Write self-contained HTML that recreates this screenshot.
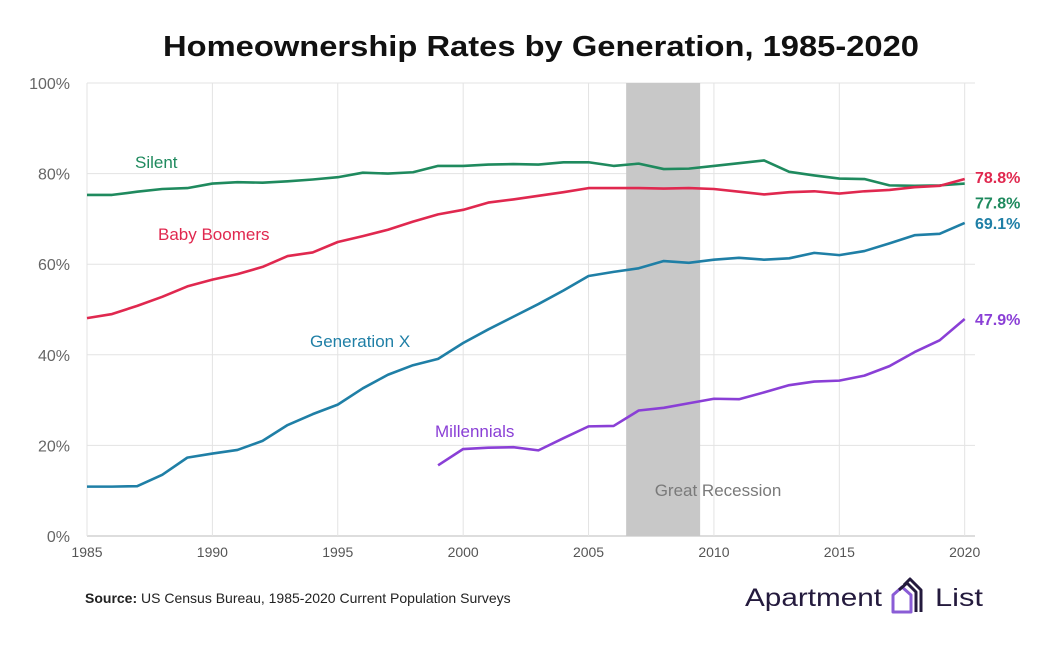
<!DOCTYPE html>
<html><head><meta charset="utf-8"><style>
body{margin:0;background:#fff;font-family:"Liberation Sans",sans-serif}
svg{display:block}
</style></head><body>
<svg id="chart" width="1059" height="655" viewBox="0 0 1059 655">
<text x="541" y="56" text-anchor="middle" font-size="29" font-weight="bold" fill="#111" textLength="756" lengthAdjust="spacingAndGlyphs">Homeownership Rates by Generation, 1985-2020</text>
<g id="grid"></g>
<rect id="recession" fill="#c8c8c8"></rect>
<text x="718" y="496" text-anchor="middle" font-size="17" fill="#7a7a7a">Great Recession</text>
<g id="lines"></g>
<text x="135" y="168" font-size="17" fill="#1f8a5e">Silent</text>
<text x="158" y="240" font-size="17" fill="#e0284f">Baby Boomers</text>
<text x="310" y="347" font-size="17" fill="#1f7fa6">Generation X</text>
<text x="435" y="437" font-size="17" fill="#8a3fd6">Millennials</text>
<text x="85" y="603" font-size="14" fill="#222"><tspan font-weight="bold">Source:</tspan> US Census Bureau, 1985-2020 Current Population Surveys</text>
<g>
<text x="745" y="606" font-size="25" fill="#241a3d" textLength="137" lengthAdjust="spacingAndGlyphs">Apartment</text>
<g fill="none" stroke-width="3" stroke-linejoin="round">
<path d="M893 612 V595 L902 587 L911 595 V612 Z" stroke="#8a5cd6"/>
<path d="M899 590 L907 583 L916 592 V612" stroke="#241a3d"/>
<path d="M904 585 L910 579 L921 590 V612" stroke="#241a3d"/>
</g>
<text x="935" y="606" font-size="25" fill="#241a3d" textLength="48" lengthAdjust="spacingAndGlyphs">List</text>
</g>
</svg>
<script>
const years = Array.from({length:36},(_,i)=>1985+i);
const silent = [75.3,75.3,76,76.6,76.8,77.8,78.1,78,78.3,78.7,79.2,80.2,80,80.3,81.7,81.7,82,82.1,82,82.5,82.5,81.7,82.2,81,81.1,81.7,82.3,82.9,80.4,79.6,78.9,78.8,77.4,77.3,77.4,77.8];
const boomers = [48.1,49,50.8,52.8,55.1,56.6,57.8,59.4,61.8,62.6,64.9,66.2,67.6,69.4,71,72,73.6,74.3,75.1,75.9,76.8,76.8,76.8,76.7,76.8,76.6,76,75.4,75.9,76.1,75.6,76.1,76.4,77,77.3,78.8];
const genx = [10.9,10.9,11.0,13.5,17.3,18.2,19.0,21,24.5,26.9,29.0,32.6,35.6,37.7,39.1,42.6,45.6,48.4,51.2,54.2,57.4,58.3,59.1,60.7,60.3,61,61.4,61,61.3,62.5,62,62.9,64.6,66.4,66.7,69.1];
const millYears = Array.from({length:22},(_,i)=>1999+i);
const millennials = [15.6,19.2,19.5,19.6,18.9,21.6,24.2,24.3,27.7,28.3,29.3,30.3,30.2,31.7,33.3,34.1,34.3,35.4,37.5,40.6,43.2,47.9];
const yTicks = [0,20,40,60,80,100];
const xTicks = [1985,1990,1995,2000,2005,2010,2015,2020];
const recession = [2006.5,2009.45];

const NS='http://www.w3.org/2000/svg';
const X = y => 87 + (y-1985)*(964.7-87)/35;
const Y = v => 536 - v*4.53;
function mk(t,a,p){const e=document.createElementNS(NS,t);for(const k in a)e.setAttribute(k,a[k]);p.appendChild(e);return e;}
const grid=document.getElementById('grid');
yTicks.forEach(v=>{
  const l=mk('line',{x1:87,x2:975,y1:Y(v),y2:Y(v),stroke:v===0?'#bbb':'#e3e3e3','stroke-width':1},grid);
  
  
  const t=mk('text',{x:70,y:Y(v)+6,'text-anchor':'end','font-size':16,fill:'#666'},grid);
  t.textContent=v+'%';
  
  
});
xTicks.forEach(v=>{
  const l=mk('line',{x1:X(v),x2:X(v),y1:Y(100),y2:Y(0),stroke:'#e3e3e3','stroke-width':1},grid);
  
  
  const t=mk('text',{x:X(v),y:557,'text-anchor':'middle','font-size':14,fill:'#555'},grid);
  t.textContent=v;
  
  
});
const r=document.getElementById('recession');
r.setAttribute('x',X(recession[0]));r.setAttribute('width',X(recession[1])-X(recession[0]));
r.setAttribute('y',Y(100));r.setAttribute('height',Y(0)-Y(100));
const lines=document.getElementById('lines');
const series=[[years,silent,'#1f8a5e','silent-line'],[years,boomers,'#e0284f','baby-boomers-line'],[years,genx,'#1f7fa6','generation-x-line'],[millYears,millennials,'#8a3fd6','millennials-line']];
series.forEach(([xs,vs,c,n])=>{
  const p=mk('polyline',{points:vs.map((v,i)=>X(xs[i])+','+Y(v)).join(' '),fill:'none',stroke:c,'stroke-width':2.6,'stroke-linejoin':'round'},lines);
  
  
  const last=vs[vs.length-1];
  let ly=Y(last)+6;
  if(n==='silent-line')ly+=19;
  if(n==='baby-boomers-line')ly-=2;
  const t=mk('text',{x:975,y:ly,'font-size':16,'font-weight':'bold',fill:c},lines);
  t.textContent=last.toFixed(1)+'%';
  
  
});
</script>
</body></html>
